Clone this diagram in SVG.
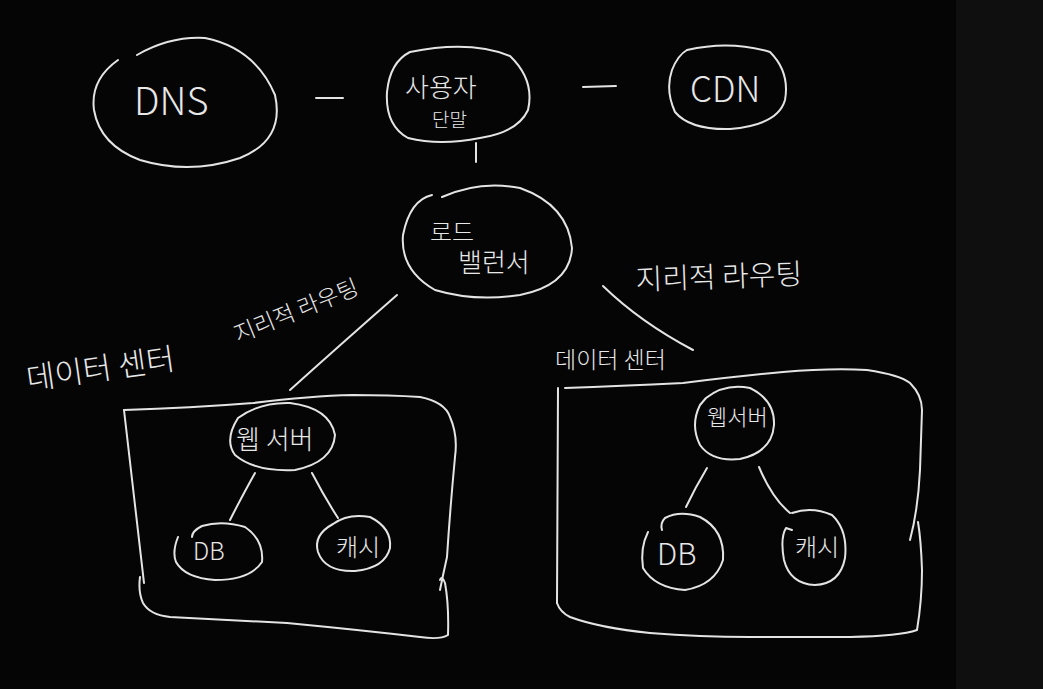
<svg xmlns="http://www.w3.org/2000/svg" width="1043" height="689" viewBox="0 0 1043 689">
<style>
.s{fill:none;stroke:#e4e4e4;stroke-width:2;stroke-linecap:round;stroke-linejoin:round}
.t{fill:#e8e8e8;font-family:"Noto Sans CJK KR","Noto Sans",sans-serif;font-weight:300}
</style>
<rect width="1043" height="689" fill="#050505"/>
<rect x="956" y="0" width="87" height="689" fill="#0f0f0f"/>
<g id="connectors" class="s">
<path d="M316,98 L343,98"/>
<path d="M583,87 L616,86"/>
<path d="M476,143 L476,162"/>
<path d="M397,295 Q340,345 290,390"/>
<path d="M603,286 Q640,322 693,350"/>
<path d="M255,473 Q240,500 230,520"/>
<path d="M312,473 Q325,498 338,518"/>
<path d="M707,468 Q695,488 686,507"/>
<path d="M759,467 Q772,498 790,513"/>
</g>
<g id="dns">
<path class="s" d="M137,55 Q170,36 205,38 Q255,48 275,95 Q285,140 240,158 Q190,175 140,160 Q100,145 94,110 Q90,80 118,60"/>
<text class="t" x="134" y="115" font-size="38">DNS</text>
</g>
<g id="user">
<path class="s" d="M410,52 Q470,40 510,56 Q535,80 528,110 Q518,132 480,138 Q440,146 408,138 Q385,125 387,92 Q390,62 410,52"/>
<text class="t" x="405" y="97" font-size="26">사용자</text>
<text class="t" x="432" y="127" font-size="19">단말</text>
</g>
<g id="cdn">
<path class="s" d="M687,50 Q730,40 770,52 Q790,72 785,100 Q778,125 730,129 Q690,130 675,112 Q665,90 672,70 Q678,55 687,50"/>
<text class="t" x="690" y="102" font-size="35">CDN</text>
</g>
<g id="lb">
<path class="s" d="M442,197 Q480,180 520,188 Q568,205 572,248 Q570,285 520,295 Q475,302 435,290 Q400,270 403,235 Q410,200 432,195"/>
<text class="t" x="430" y="241" font-size="24">로드</text>
<text class="t" x="458" y="272" font-size="26">밸런서</text>
</g>
<text class="t" transform="translate(238,343) rotate(-22)" font-size="23">지리적 라우팅</text>
<text class="t" transform="translate(636,290) rotate(-2)" font-size="29">지리적 라우팅</text>
<g id="dc-left">
<path class="s" d="M124,410 L144,583"/>
<path class="s" d="M124,410 Q190,408 253,403 Q310,396 353,395 Q390,395 420,397 Q445,402 450,417 Q458,435 455,457 Q450,510 447,557 Q443,575 440,590"/>
<path class="s" d="M140,577 Q138,592 143,603 Q150,615 170,617 Q230,620 287,623 Q360,630 420,637 Q440,640 448,635 Q449,605 445,583 Q442,575 440,580"/>
<text class="t" transform="translate(28,390) rotate(-8)" font-size="31">데이터 센터</text>
</g>
<g id="dc-right">
<path class="s" d="M558,388 L557,603"/>
<path class="s" d="M565,388 Q620,386 683,383 Q740,376 783,372 Q830,368 867,370 Q900,375 910,383 Q922,395 922,410 Q921,440 920,470 Q918,510 910,540"/>
<path class="s" d="M557,603 Q560,612 570,617 Q600,628 650,633 Q700,637 750,637 Q800,637 850,637 Q900,636 917,630 Q922,600 922,570 Q921,540 918,522"/>
<text class="t" x="555" y="368" font-size="23">데이터 센터</text>
</g>
<g id="web-left">
<path class="s" d="M238,418 Q260,402 290,403 Q330,408 335,435 Q333,462 295,470 Q255,472 235,455 Q224,440 238,418"/>
<text class="t" x="236" y="449" font-size="26">웹 서버</text>
</g>
<g id="db-left">
<path class="s" d="M178,537 Q172,552 176,562 Q185,578 215,580 Q250,580 262,562 Q264,540 245,527 Q222,520 202,526 Q192,531 192,537"/>
<text class="t" x="193" y="560" font-size="24">DB</text>
</g>
<g id="cache-left">
<path class="s" d="M333,524 Q348,513 370,517 Q392,528 390,548 Q385,568 355,571 Q325,572 318,552 Q313,535 333,524"/>
<text class="t" x="336" y="556" font-size="24">캐시</text>
</g>
<g id="web-right">
<path class="s" d="M706,398 Q725,383 750,388 Q775,400 774,425 Q772,452 740,459 Q712,462 700,445 Q690,425 700,405 L706,398"/>
<text class="t" x="707" y="425" font-size="22">웹서버</text>
</g>
<g id="db-right">
<path class="s" d="M648,532 Q640,548 643,568 Q655,588 685,590 Q715,585 723,560 Q725,530 700,517 Q680,510 665,518 Q660,523 662,530"/>
<text class="t" x="657" y="565" font-size="30">DB</text>
</g>
<g id="cache-right">
<path class="s" d="M792,513 Q812,506 832,515 Q848,530 845,558 Q840,584 815,585 Q790,584 784,560 Q780,538 786,528 L792,530"/>
<text class="t" x="795" y="556" font-size="24">캐시</text>
</g>
</svg>
